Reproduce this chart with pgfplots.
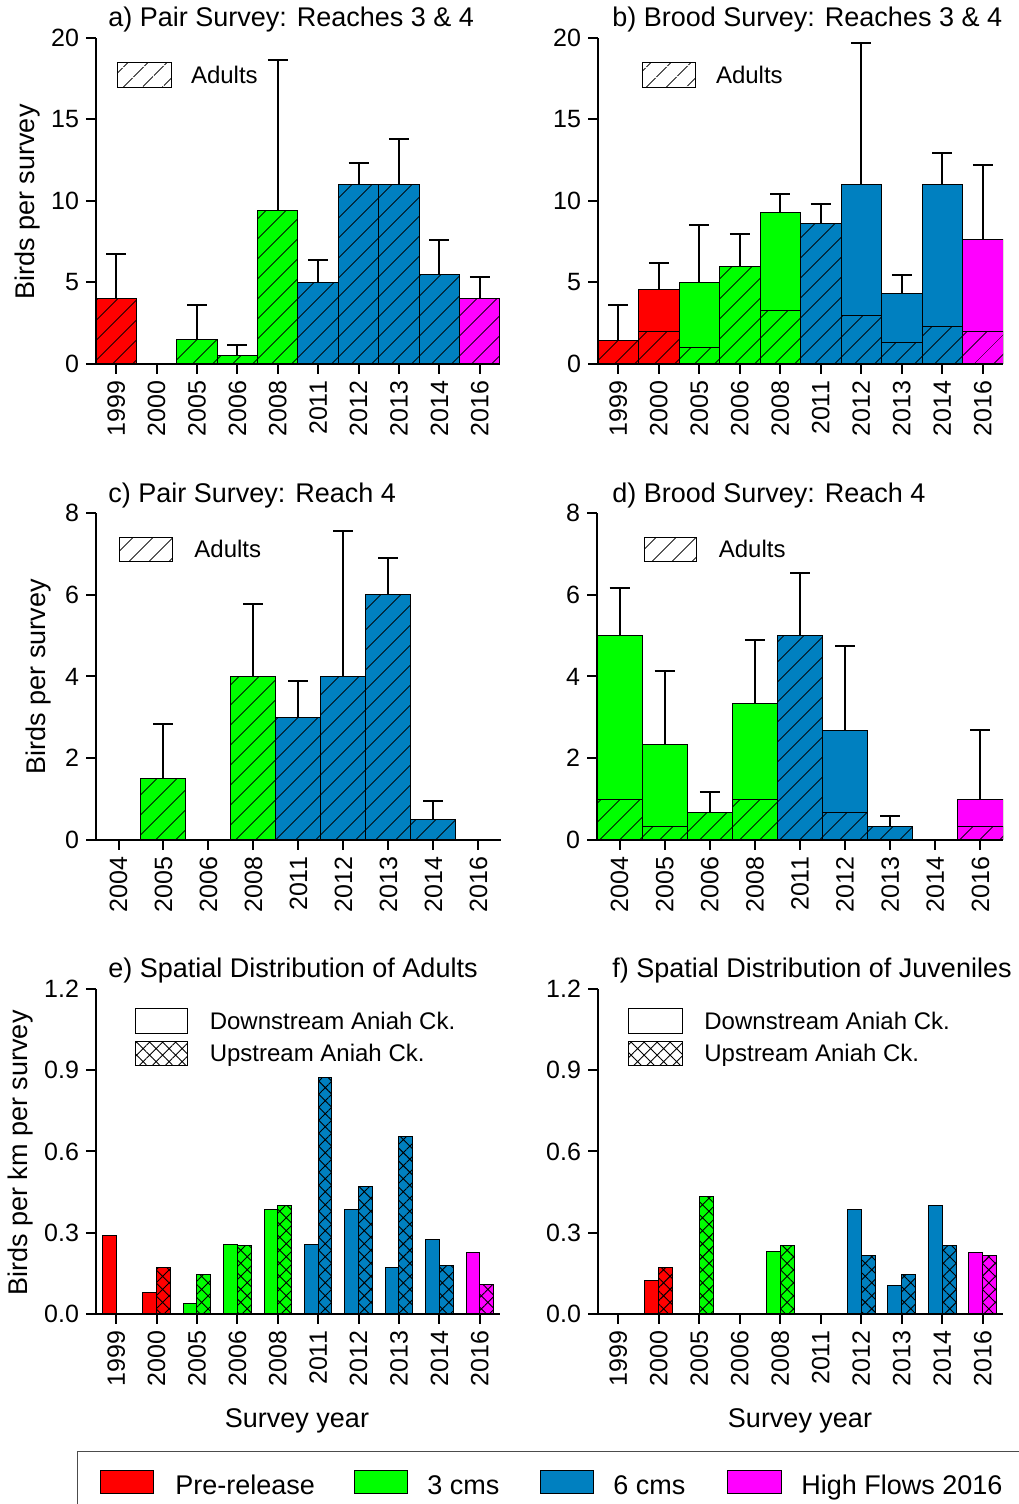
\documentclass[border=0pt]{standalone}
\usepackage{pgfplots}
\pgfplotsset{compat=1.18}
\usepackage{fontspec}
\setmainfont{Liberation Sans}
\usetikzlibrary{patterns.meta}
\definecolor{cred}{RGB}{255,0,0}
\definecolor{cgreen}{RGB}{0,255,0}
\definecolor{cblue}{RGB}{0,128,192}
\definecolor{cmag}{RGB}{255,0,255}
\newcommand{\fs}[1]{\fontsize{#1}{#1}\selectfont}
\tikzset{
  adulthatch/.style={pattern={Lines[angle=45,distance=7.4pt,line width=0.45pt]},pattern color=black},
  uphatch/.style={pattern={Hatch[angle=45,distance=4.6pt,line width=0.45pt]},pattern color=black},
}
\pgfplotsset{
  panel/.style={
    scale only axis, anchor=south west,
    axis x line*=bottom, axis y line*=left,
    axis line style={-, line width=1pt},
    major tick style={line width=1pt, black},
    major tick length=5pt,
    tick align=outside,
    ymin=0, xmin=-0.5,
    ticklabel style={font=\fs{12.5}},
    xticklabel style={rotate=90, anchor=east},
    /pgf/number format/assume math mode=true,
    axis on top,
  },
  bars/.style={ybar, bar width=1, bar shift=0, draw=black, line width=0.5pt},
  errs/.style={error bars/y dir=plus, error bars/y explicit,
    error bars/error mark=|,
    error bars/error bar style={line width=1pt, black},
    error bars/error mark options={line width=1pt, black, mark size=5pt}},
}
\begin{document}
\begin{tikzpicture}
\useasboundingbox (0,0) rectangle (509pt,752pt);
% ---------- a ----------
\begin{axis}[panel, at={(48pt,570pt)}, width=202pt, height=163pt,
  xmax=9.5, ymax=20, ytick={0,5,10,15,20},
  xtick={0,...,9}, xticklabels={1999,2000,2005,2006,2008,2011,2012,2013,2014,2016}]
\addplot[bars, fill=cred, errs] coordinates {(0,4) +- (0,2.75)};
\addplot[bars, fill=cgreen, errs] coordinates {(2,1.5) +- (0,2.1) (3,0.5) +- (0,0.65) (4,9.4) +- (0,9.25)};
\addplot[bars, fill=cblue, errs] coordinates {(5,5) +- (0,1.4) (6,11) +- (0,1.35) (7,11) +- (0,2.8) (8,5.5) +- (0,2.1)};
\addplot[bars, fill=cmag, errs] coordinates {(9,4) +- (0,1.35)};
\addplot[bars, adulthatch] coordinates {(0,4) (2,1.5) (3,0.5) (4,9.4) (5,5) (6,11) (7,11) (8,5.5) (9,4)};
\end{axis}
% ---------- b ----------
\begin{axis}[panel, at={(299pt,570pt)}, width=202.5pt, height=163pt,
  xmax=9.5, ymax=20, ytick={0,5,10,15,20},
  xtick={0,...,9}, xticklabels={1999,2000,2005,2006,2008,2011,2012,2013,2014,2016}]
\addplot[bars, fill=cred, errs] coordinates {(0,1.43) +- (0,2.17) (1,4.6) +- (0,1.6)};
\addplot[bars, fill=cgreen, errs] coordinates {(2,5) +- (0,3.55) (3,6) +- (0,2) (4,9.3) +- (0,1.15)};
\addplot[bars, fill=cblue, errs] coordinates {(5,8.6) +- (0,1.2) (6,11) +- (0,8.7) (7,4.3) +- (0,1.15) (8,11) +- (0,1.95)};
\addplot[bars, fill=cmag, errs] coordinates {(9,7.65) +- (0,4.55)};
\addplot[bars, adulthatch] coordinates {(0,1.43) (1,2) (2,1) (3,6) (4,3.3) (5,8.6) (6,3) (7,1.33) (8,2.3) (9,2)};
\end{axis}
% ---------- c ----------
\begin{axis}[panel, at={(48pt,332pt)}, width=202.5pt, height=163.5pt,
  xmax=8.5, ymax=8, ytick={0,2,4,6,8},
  xtick={0,...,8}, xticklabels={2004,2005,2006,2008,2011,2012,2013,2014,2016}]
\addplot[bars, fill=cgreen, errs] coordinates {(1,1.5) +- (0,1.33) (3,4) +- (0,1.78)};
\addplot[bars, fill=cblue, errs] coordinates {(4,3) +- (0,0.88) (5,4) +- (0,3.56) (6,6) +- (0,0.89) (7,0.5) +- (0,0.45)};
\addplot[bars, adulthatch] coordinates {(1,1.5) (3,4) (4,3) (5,4) (6,6) (7,0.5)};
\end{axis}
% ---------- d ----------
\begin{axis}[panel, at={(298.5pt,332pt)}, width=203pt, height=163.5pt,
  xmax=8.5, ymax=8, ytick={0,2,4,6,8},
  xtick={0,...,8}, xticklabels={2004,2005,2006,2008,2011,2012,2013,2014,2016}]
\addplot[bars, fill=cgreen, errs] coordinates {(0,5) +- (0,1.17) (1,2.33) +- (0,1.8) (2,0.67) +- (0,0.51) (3,3.33) +- (0,1.57)};
\addplot[bars, fill=cblue, errs] coordinates {(4,5) +- (0,1.53) (5,2.67) +- (0,2.08) (6,0.33) +- (0,0.26)};
\addplot[bars, fill=cmag, errs] coordinates {(8,1) +- (0,1.7)};
\addplot[bars, adulthatch] coordinates {(0,1) (1,0.33) (2,0.67) (3,1) (4,5) (5,0.67) (6,0.33) (8,0.33)};
\end{axis}
% ---------- e ----------
\begin{axis}[panel, at={(48pt,95pt)}, width=202pt, height=162.5pt,
  xmax=9.5, ymax=1.2, ytick={0,0.3,0.6,0.9,1.2}, yticklabels={0.0,0.3,0.6,0.9,1.2},
  xtick={0,...,9}, xticklabels={1999,2000,2005,2006,2008,2011,2012,2013,2014,2016}]
\addplot[bars, bar width=0.34, bar shift=-0.17, fill=cred] coordinates {(0,0.29) (1,0.081)};
\addplot[bars, bar width=0.34, bar shift=-0.17, fill=cgreen] coordinates {(2,0.04) (3,0.256) (4,0.384)};
\addplot[bars, bar width=0.34, bar shift=-0.17, fill=cblue] coordinates {(5,0.256) (6,0.384) (7,0.17) (8,0.274)};
\addplot[bars, bar width=0.34, bar shift=-0.17, fill=cmag] coordinates {(9,0.228)};
\addplot[bars, bar width=0.34, bar shift=0.17, fill=cred, postaction={uphatch}] coordinates {(1,0.171)};
\addplot[bars, bar width=0.34, bar shift=0.17, fill=cgreen, postaction={uphatch}] coordinates {(2,0.144) (3,0.252) (4,0.40)};
\addplot[bars, bar width=0.34, bar shift=0.17, fill=cblue, postaction={uphatch}] coordinates {(5,0.872) (6,0.472) (7,0.654) (8,0.18)};
\addplot[bars, bar width=0.34, bar shift=0.17, fill=cmag, postaction={uphatch}] coordinates {(9,0.11)};
\end{axis}
% ---------- f ----------
\begin{axis}[panel, at={(299pt,95pt)}, width=202.5pt, height=162.5pt,
  xmax=9.5, ymax=1.2, ytick={0,0.3,0.6,0.9,1.2}, yticklabels={0.0,0.3,0.6,0.9,1.2},
  xtick={0,...,9}, xticklabels={1999,2000,2005,2006,2008,2011,2012,2013,2014,2016}]
\addplot[bars, bar width=0.34, bar shift=-0.17, fill=cred] coordinates {(1,0.124)};
\addplot[bars, bar width=0.34, bar shift=-0.17, fill=cgreen] coordinates {(4,0.232)};
\addplot[bars, bar width=0.34, bar shift=-0.17, fill=cblue] coordinates {(6,0.384) (7,0.106) (8,0.402)};
\addplot[bars, bar width=0.34, bar shift=-0.17, fill=cmag] coordinates {(9,0.228)};
\addplot[bars, bar width=0.34, bar shift=0.17, fill=cred, postaction={uphatch}] coordinates {(1,0.171)};
\addplot[bars, bar width=0.34, bar shift=0.17, fill=cgreen, postaction={uphatch}] coordinates {(2,0.434) (4,0.252)};
\addplot[bars, bar width=0.34, bar shift=0.17, fill=cblue, postaction={uphatch}] coordinates {(6,0.217) (7,0.144) (8,0.252)};
\addplot[bars, bar width=0.34, bar shift=0.17, fill=cmag, postaction={uphatch}] coordinates {(9,0.217)};
\end{axis}
% ---------- titles ----------
\begin{scope}[every node/.style={inner sep=0pt, font=\fs{13.5}}]
\node[anchor=base west] at (54pt,738.5pt) {a) Pair Survey: Reaches 3 \& 4};
\node[anchor=base west] at (306pt,738.5pt) {b) Brood Survey: Reaches 3 \& 4};
\node[anchor=base west] at (54pt,500.5pt) {c) Pair Survey: Reach 4};
\node[anchor=base west] at (306pt,500.5pt) {d) Brood Survey: Reach 4};
\node[anchor=base west] at (54pt,263pt) {e) Spatial Distribution of Adults};
\node[anchor=base west] at (306pt,263pt) {f) Spatial Distribution of Juveniles};
% y labels
\node[anchor=north, rotate=90] at (7.5pt,651pt) {Birds per survey};
\node[anchor=north, rotate=90] at (13pt,413.75pt) {Birds per survey};
\node[anchor=north, rotate=90] at (4pt,175.5pt) {Birds per km per survey};
% x labels
\node[anchor=base] at (148.5pt,38pt) {Survey year};
\node[anchor=base] at (400pt,38pt) {Survey year};
\end{scope}
% ---------- in-panel legends ----------
\begin{scope}[every node/.style={inner sep=0pt, font=\fs{12}, anchor=base west}]
\draw[line width=0.5pt, adulthatch] (58.5pt,708pt) rectangle (85.5pt,720.5pt);
\node at (95.3pt,710.3pt) {Adults};
\draw[line width=0.5pt, adulthatch] (321pt,708pt) rectangle (347.5pt,720.5pt);
\node at (357.8pt,710.3pt) {Adults};
\draw[line width=0.5pt, adulthatch] (59.7pt,471pt) rectangle (86.3pt,483pt);
\node at (97pt,473.2pt) {Adults};
\draw[line width=0.5pt, adulthatch] (322.2pt,471pt) rectangle (348.3pt,483pt);
\node at (359.2pt,473.2pt) {Adults};
\draw[line width=0.5pt] (67.5pt,235.3pt) rectangle (93.7pt,247.7pt);
\draw[line width=0.5pt, uphatch] (67.5pt,219pt) rectangle (93.7pt,231pt);
\node at (104.7pt,237pt) {Downstream Aniah Ck.};
\node at (104.7pt,221.2pt) {Upstream Aniah Ck.};
\draw[line width=0.5pt] (314.3pt,235.3pt) rectangle (341.2pt,247.7pt);
\draw[line width=0.5pt, uphatch] (314.3pt,219pt) rectangle (341.2pt,231pt);
\node at (352pt,237pt) {Downstream Aniah Ck.};
\node at (352pt,221.2pt) {Upstream Aniah Ck.};
\end{scope}
% ---------- bottom legend ----------
\draw[line width=0.5pt, black!70] (38.5pt,-10pt) -- (38.5pt,26pt) -- (520pt,26pt);
\begin{scope}[every node/.style={inner sep=0pt, font=\fs{13.5}, anchor=base west}]
\draw[line width=0.5pt, fill=cred] (50pt,5pt) rectangle (76.5pt,16.5pt);
\node at (87.5pt,5pt) {Pre-release};
\draw[line width=0.5pt, fill=cgreen] (177pt,5pt) rectangle (203.5pt,16.5pt);
\node at (213.5pt,5pt) {3 cms};
\draw[line width=0.5pt, fill=cblue] (270pt,5pt) rectangle (296.5pt,16.5pt);
\node at (306.5pt,5pt) {6 cms};
\draw[line width=0.5pt, fill=cmag] (363.5pt,5pt) rectangle (390.5pt,16.5pt);
\node at (400.5pt,5pt) {High Flows 2016};
\end{scope}
\end{tikzpicture}
\end{document}
